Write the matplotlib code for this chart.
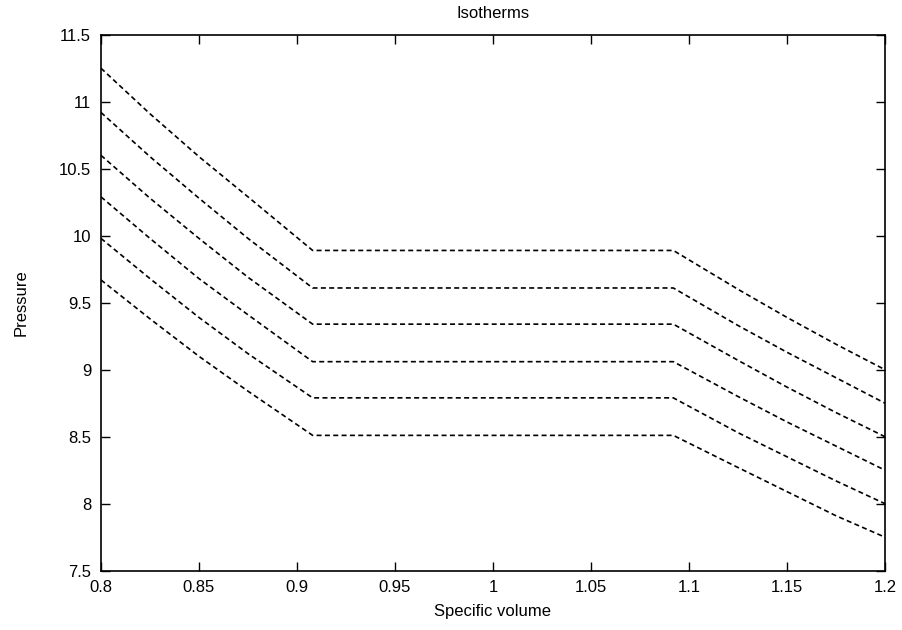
import numpy as np
import matplotlib
matplotlib.use('Agg')
import matplotlib.pyplot as plt

# === Data (specific volume vs pressure) ===
volume = [0.8, 0.825, 0.85, 0.875, 0.908, 1.092, 1.125, 1.15, 1.175, 1.2]

iso_1 = [11.25, 10.91, 10.59, 10.29, 9.89, 9.89, 9.60, 9.39, 9.19, 9.00]
iso_2 = [10.92, 10.59, 10.28, 9.98, 9.61, 9.61, 9.33, 9.13, 8.94, 8.75]
iso_3 = [10.60, 10.28, 9.98, 9.69, 9.34, 9.34, 9.07, 8.87, 8.68, 8.50]
iso_4 = [10.29, 9.98, 9.68, 9.41, 9.06, 9.06, 8.80, 8.61, 8.43, 8.25]
iso_5 = [9.98, 9.68, 9.39, 9.12, 8.79, 8.79, 8.53, 8.35, 8.17, 8.00]
iso_6 = [9.67, 9.38, 9.10, 8.84, 8.51, 8.51, 8.27, 8.09, 7.91, 7.75]

isotherms = [iso_1, iso_2, iso_3, iso_4, iso_5, iso_6]

x_ticks = [0.8, 0.85, 0.9, 0.95, 1, 1.05, 1.1, 1.15, 1.2]
y_ticks = [7.5, 8, 8.5, 9, 9.5, 10, 10.5, 11, 11.5]

plt.rcParams['font.family'] = ['Liberation Sans', 'DejaVu Sans']
plt.rcParams['font.size'] = 12

fig = plt.figure(figsize=(9.03, 6.30), dpi=100)
ax = fig.add_axes([0.1118, 0.0941, 0.8683, 0.8508])

for p in isotherms:
    ax.plot(volume, p, color='black', lw=1.2, dashes=(3, 2))

ax.set_xlim(0.8, 1.2)
ax.set_ylim(7.5, 11.5)
ax.set_xticks(x_ticks)
ax.set_xticklabels([('%g' % t) for t in x_ticks])
ax.set_yticks(y_ticks)
ax.set_yticklabels([('%g' % t) for t in y_ticks])

# gnuplot-like ticks: inward, mirrored on all sides
ax.tick_params(direction='in', length=6.5, width=1.0, top=True, right=True,
               labelsize=12, pad=7)
for s in ax.spines.values():
    s.set_linewidth(1.2)

ax.set_title('Isotherms', fontsize=12, pad=12)
ax.set_xlabel('Specific volume', fontsize=12, labelpad=6)
ax.set_ylabel('Pressure', fontsize=12, labelpad=22)

fig.savefig('out.png', dpi=100)
